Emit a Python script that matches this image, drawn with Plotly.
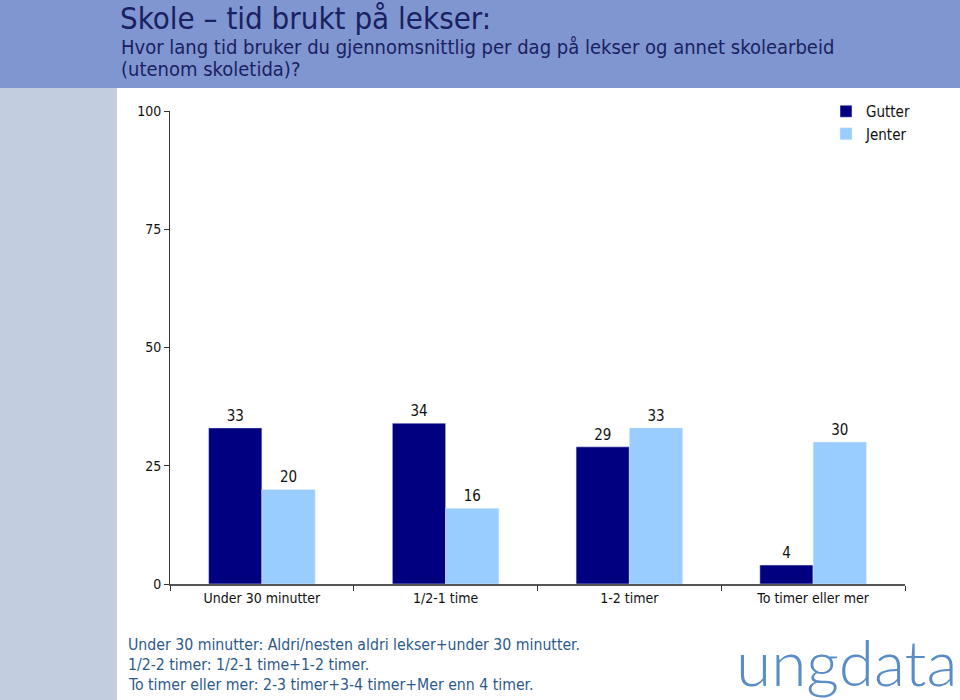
import plotly.graph_objects as go

categories = ["Under 30 minutter", "1/2-1 time", "1-2 timer", "To timer eller mer"]
gutter = [33, 34, 29, 4]
jenter = [20, 16, 33, 30]
y_ticks = [0, 25, 50, 75, 100]

W, H = 960, 700
L, R, T, B = 170, 905, 111, 584  # plot area in pixels

def px(x):
    return (x - L) / (R - L)

def py(y):
    return (B - y) / (B - T)

FONT = "DejaVu Sans Condensed, DejaVu Sans, sans-serif"
NAVY_TXT = "#1A2160"

fig = go.Figure()
fig.add_trace(go.Bar(name="Gutter", x=categories, y=gutter, marker_color="#000080",
                     text=gutter, textposition="outside",
                     textfont=dict(size=15, color="#111111", family=FONT), cliponaxis=False))
fig.add_trace(go.Bar(name="Jenter", x=categories, y=jenter, marker_color="#99CCFF",
                     text=jenter, textposition="outside",
                     textfont=dict(size=15, color="#111111", family=FONT), cliponaxis=False))

shapes = [
    dict(type="rect", xref="paper", yref="paper", x0=px(0), x1=px(W), y0=py(88), y1=py(0),
         fillcolor="#8096D1", line_width=0, layer="below"),
    dict(type="rect", xref="paper", yref="paper", x0=px(0), x1=px(117), y0=py(H), y1=py(88),
         fillcolor="#C3CDE0", line_width=0, layer="below"),
]

def ann(text, x, y, size, color, family=FONT, xanchor="left", yanchor="middle", **kw):
    return dict(text=text, x=px(x), y=py(y), xref="paper", yref="paper",
                xanchor=xanchor, yanchor=yanchor, showarrow=False, align="left",
                font=dict(size=size, color=color, family=family, **kw))

annotations = [
    ann("Skole – tid brukt på lekser:", 118, 18, 31, NAVY_TXT),
    ann("Hvor lang tid bruker du gjennomsnittlig per dag på lekser og annet skolearbeid", 119, 47, 20, NAVY_TXT),
    ann("(utenom skoletida)?", 119, 69, 20, NAVY_TXT),
    ann("Under 30 minutter: Aldri/nesten aldri lekser+under 30 minutter.", 126, 644, 15.7, "#2B5A8A"),
    ann("1/2-2 timer: 1/2-1 time+1-2 timer.", 126, 664, 15.7, "#2B5A8A"),
    ann("To timer eller mer: 2-3 timer+3-4 timer+Mer enn 4 timer.", 126, 684, 15.7, "#2B5A8A"),
    ann("ungdata", 959, 702, 64, "#5A8DC6", family="Lato, Open Sans, sans-serif",
        xanchor="right", yanchor="bottom", weight=300),
]

fig.update_layout(
    width=W, height=H,
    margin=dict(l=L, r=W - R, t=T, b=H - B, pad=0),
    paper_bgcolor="white", plot_bgcolor="white",
    barmode="group", bargap=0.42, bargroupgap=0,
    font=dict(family=FONT, size=14, color="#111111"),
    shapes=shapes, annotations=annotations,
    legend=dict(x=px(826), y=py(95), xanchor="left", yanchor="top",
                font=dict(size=15, family=FONT, color="#111111"),
                bgcolor="rgba(0,0,0,0)", itemwidth=30, tracegroupgap=0),
    xaxis=dict(showgrid=False, showline=True, linecolor="#555555", linewidth=2,
               ticks="outside", tickson="boundaries", ticklen=5, tickcolor="#333333",
               tickfont=dict(size=14, family=FONT, color="#111111"), zeroline=False),
    yaxis=dict(range=[0, 100], tickvals=y_ticks, showgrid=False, showline=True,
               linecolor="#333333", linewidth=1, ticks="outside", ticklen=5,
               tickcolor="#333333", zeroline=False,
               tickfont=dict(size=14, family=FONT, color="#111111")),
)

fig.write_html("out.html", config={"displayModeBar": False},
               post_script="document.body.style.margin='0';document.body.style.overflow='hidden';")
